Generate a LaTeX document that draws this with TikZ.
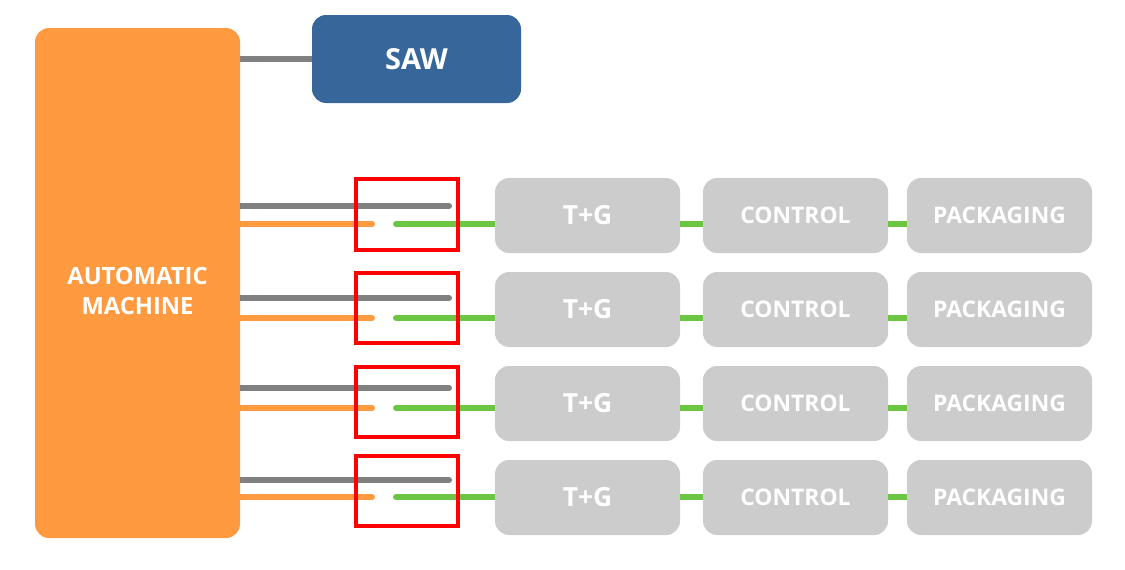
\documentclass[tikz,border=0pt]{standalone}
\usepackage{fontspec}
\setmainfont{Open Sans}
\begin{document}
\begin{tikzpicture}[x=0.02cm,y=-0.02cm,
 box/.style={fill=#1,rounded corners=8pt,draw=none,text=white,font=\bfseries},
 ln/.style={line width=3.4pt,line cap=round,draw=#1},
 red/.style={draw=red,line width=2pt}]
\definecolor{org}{HTML}{FF9A40}
\definecolor{saw}{HTML}{37679A}
\definecolor{gbox}{HTML}{CCCCCC}
\definecolor{gln}{HTML}{808080}
\definecolor{grn}{HTML}{6CC644}
\useasboundingbox (0,0) rectangle (1125,569);
\draw[ln=gln,line cap=butt] (240,59) -- (312,59);
\node[box=org,minimum width=205*0.02cm,minimum height=510*0.02cm] (am) at (137.5,283) {};
\node[text=white,align=center,font=\bfseries\fontsize{13.5}{17}\selectfont] (amt) at (137.5,291) {AUTOMATIC\\MACHINE};
\node[box=saw,minimum width=209*0.02cm,minimum height=88*0.02cm,font=\bfseries\fontsize{16.5}{18}\selectfont] (saw) at (416.5,59) {SAW};
\foreach \i/\top/\gy/\oy/\rt/\rb in {1/178/206/224/179/250,2/272/298/318/273/343,3/366/388/408/367/437,4/460/480/497/456/526}{
 \coordinate (g\i a) at (240,\gy); \coordinate (g\i b) at (449,\gy);
 \coordinate (o\i a) at (240,\oy); \coordinate (o\i b) at (372,\oy);
 \coordinate (n\i a) at (396,\oy);
 \draw[ln=gln,line cap=butt] (g\i a) -- (g\i b);
 \fill[gln] (g\i b) circle (1.7pt);
 \draw[ln=org,line cap=butt] (o\i a) -- (o\i b);
 \fill[org] (o\i b) circle (1.7pt);
 \node[box=gbox,minimum width=185*0.02cm,minimum height=75*0.02cm,font=\bfseries\fontsize{15}{16}\selectfont] (tg\i) at (587.5,\top+37.5) {T+G};
 \node[box=gbox,minimum width=185*0.02cm,minimum height=75*0.02cm,font=\bfseries\fontsize{13}{14}\selectfont] (ct\i) at (795.5,\top+37.5) {CONTROL};
 \node[box=gbox,minimum width=185*0.02cm,minimum height=75*0.02cm,font=\bfseries\fontsize{13}{14}\selectfont] (pk\i) at (999.5,\top+37.5) {PACKAGING};
 \draw[ln=grn,line cap=butt] (n\i a) -- (tg\i.west |- n\i a);
 \draw[ln=grn,line cap=butt] (tg\i.east |- n\i a) -- (ct\i.west |- n\i a);
 \draw[ln=grn,line cap=butt] (ct\i.east |- n\i a) -- (pk\i.west |- n\i a);
 \fill[grn] (n\i a) circle (1.7pt);
 \node[red,minimum width=102*0.02cm,minimum height=(\rb-\rt)*0.02cm,inner sep=0] (r\i) at (407,{(\rt+\rb)/2}) {};
}
\end{tikzpicture}
\end{document}
